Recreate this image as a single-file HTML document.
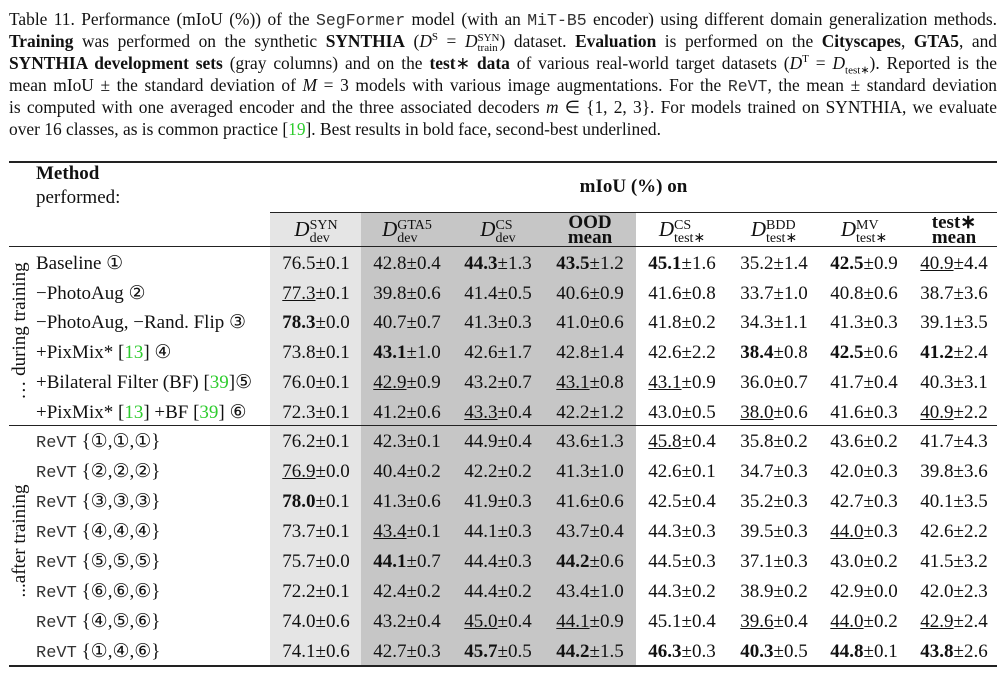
<!DOCTYPE html>
<html><head><meta charset="utf-8">
<style>
body{margin:0;background:#fff;}
#wrap{position:relative;width:1007px;height:677px;overflow:hidden;font-family:"Liberation Serif",serif;color:#111;}
.cap{position:absolute;left:9px;width:988px;height:22px;font-size:17.4px;line-height:22px;white-space:nowrap;text-align:justify;text-align-last:justify;}
.cap sup,.cap sub{line-height:0;font-size:11px;}
.mono{font-family:"Liberation Mono",monospace;font-size:16.5px;color:#333;}
.g{color:#2ecc2e;}
.rule{position:absolute;background:#222;}
.bg{position:absolute;}
.cell{position:absolute;width:92px;text-align:center;font-size:19px;line-height:22px;white-space:nowrap;}
.lab{position:absolute;left:36px;font-size:19px;line-height:22px;white-space:nowrap;}
.hd{position:absolute;text-align:center;white-space:nowrap;}
.dd{font-style:italic;font-size:21px;}
.stk{display:inline-block;vertical-align:middle;line-height:13px;font-size:14px;text-align:left;}
.rot{position:absolute;transform:rotate(-90deg);transform-origin:center;font-size:19px;white-space:nowrap;}
</style></head>
<body>
<div id="wrap">
<div class="cap" style="top:8px">Table 11. Performance (mIoU (%)) of the <span class="mono">SegFormer</span> model (with an <span class="mono">MiT-B5</span> encoder) using different domain generalization methods.</div>
<div class="cap" style="top:30px"><b>Training</b> was performed on the synthetic <b>SYNTHIA</b> (<i>D</i><sup>S</sup> = <i>D</i><span style="display:inline-block;vertical-align:middle;line-height:10px;font-size:11px;">SYN<br>train</span>) dataset. <b>Evaluation</b> is performed on the <b>Cityscapes</b>, <b>GTA5</b>, and</div>
<div class="cap" style="top:52px"><b>SYNTHIA development sets</b> (gray columns) and on the <b>test</b>∗ <b>data</b> of various real-world target datasets (<i>D</i><sup>T</sup> = <i>D</i><sub>test∗</sub>). Reported is the</div>
<div class="cap" style="top:74px">mean mIoU ± the standard deviation of <i>M</i> = 3 models with various image augmentations. For the <span class="mono">ReVT</span>, the mean ± standard deviation</div>
<div class="cap" style="top:96px">is computed with one averaged encoder and the three associated decoders <i>m</i> ∈ {1, 2, 3}. For models trained on SYNTHIA, we evaluate</div>
<div class="cap" style="top:118px;width:auto;text-align-last:auto">over 16 classes, as is common practice [<span class="g">19</span>]. Best results in bold face, second-best underlined.</div>

<div class="bg" style="left:270px;top:212px;width:91px;height:454px;background:#e5e5e5"></div>
<div class="bg" style="left:361px;top:212px;width:275px;height:454px;background:#c6c6c6"></div>

<div class="rule" style="left:9px;top:161px;width:988px;height:2px"></div>
<div class="rule" style="left:270px;top:212px;width:727px;height:1px"></div>
<div class="rule" style="left:9px;top:246px;width:988px;height:1px"></div>
<div class="rule" style="left:9px;top:425px;width:988px;height:1px"></div>
<div class="rule" style="left:9px;top:665px;width:988px;height:2px"></div>

<div class="lab" style="top:163px;font-weight:bold">Method</div>
<div class="lab" style="top:187px">performed:</div>
<div class="hd" style="left:270px;width:727px;top:176px;font-weight:bold;font-size:19px">mIoU (%) on</div>

<div class="rot" style="left:-50px;top:320px;width:140px;text-align:center">… during training</div>
<div class="rot" style="left:-50px;top:530px;width:140px;text-align:center">...after training</div>
</div>
<script>
const colNames=["syn-dev","gta5-dev","cs-dev","ood-mean","cs-test","bdd-test","mv-test","test-mean"];
const colSups=["SYN","GTA5","CS","","CS","BDD","MV",""];
const colSubs=["dev","dev","dev","","test∗","test∗","test∗",""];
const colLefts=[270,361,452,544,636,728,818,908];
const methods1=["Baseline ①","−PhotoAug ②","−PhotoAug, −Rand. Flip ③","+PixMix* [<span class='g'>13</span>] ④","+Bilateral Filter (BF) [<span class='g'>39</span>]⑤","+PixMix* [<span class='g'>13</span>] +BF [<span class='g'>39</span>] ⑥"];
const methods2=["{①,①,①}","{②,②,②}","{③,③,③}","{④,④,④}","{⑤,⑤,⑤}","{⑥,⑥,⑥}","{④,⑤,⑥}","{①,④,⑥}"];
// value strings: *bold*, _underline_
const rows1=[
["76.5±0.1","42.8±0.4","*44.3*±1.3","*43.5*±1.2","*45.1*±1.6","35.2±1.4","*42.5*±0.9","_40.9_±4.4"],
["_77.3_±0.1","39.8±0.6","41.4±0.5","40.6±0.9","41.6±0.8","33.7±1.0","40.8±0.6","38.7±3.6"],
["*78.3*±0.0","40.7±0.7","41.3±0.3","41.0±0.6","41.8±0.2","34.3±1.1","41.3±0.3","39.1±3.5"],
["73.8±0.1","*43.1*±1.0","42.6±1.7","42.8±1.4","42.6±2.2","*38.4*±0.8","*42.5*±0.6","*41.2*±2.4"],
["76.0±0.1","_42.9_±0.9","43.2±0.7","_43.1_±0.8","_43.1_±0.9","36.0±0.7","41.7±0.4","40.3±3.1"],
["72.3±0.1","41.2±0.6","_43.3_±0.4","42.2±1.2","43.0±0.5","_38.0_±0.6","41.6±0.3","_40.9_±2.2"]];
const rows2=[
["76.2±0.1","42.3±0.1","44.9±0.4","43.6±1.3","_45.8_±0.4","35.8±0.2","43.6±0.2","41.7±4.3"],
["_76.9_±0.0","40.4±0.2","42.2±0.2","41.3±1.0","42.6±0.1","34.7±0.3","42.0±0.3","39.8±3.6"],
["*78.0*±0.1","41.3±0.6","41.9±0.3","41.6±0.6","42.5±0.4","35.2±0.3","42.7±0.3","40.1±3.5"],
["73.7±0.1","_43.4_±0.1","44.1±0.3","43.7±0.4","44.3±0.3","39.5±0.3","_44.0_±0.3","42.6±2.2"],
["75.7±0.0","*44.1*±0.7","44.4±0.3","*44.2*±0.6","44.5±0.3","37.1±0.3","43.0±0.2","41.5±3.2"],
["72.2±0.1","42.4±0.2","44.4±0.2","43.4±1.0","44.3±0.2","38.9±0.2","42.9±0.0","42.0±2.3"],
["74.0±0.6","43.2±0.4","_45.0_±0.4","_44.1_±0.9","45.1±0.4","_39.6_±0.4","_44.0_±0.2","_42.9_±2.4"],
["74.1±0.6","42.7±0.3","*45.7*±0.5","*44.2*±1.5","*46.3*±0.3","*40.3*±0.5","*44.8*±0.1","*43.8*±2.6"]];
const W=document.getElementById('wrap');
function fmt(s){return s.replace(/\*([^*]+)\*/g,'<b>$1</b>').replace(/_([^_]+)_/g,'<u>$1</u>');}
colNames.forEach((n,i)=>{
  const h=document.createElement('div');
  h.className='hd';
  h.style.left=colLefts[i]+'px';h.style.width='92px';h.style.top='215px';h.style.height='30px';
  if(colSups[i]){h.innerHTML='<span class="dd">D</span><span class="stk">'+colSups[i]+'<br>'+colSubs[i]+'</span>';h.style.top='217px';}
  else{h.innerHTML='<b style="line-height:15px;display:block;font-size:19px">'+(i==3?'OOD':'test∗')+'<br>mean</b>';}
  
  
  W.appendChild(h);
});
function addRows(labels,rows,y0,dy,mono,prefix){
  rows.forEach((r,ri)=>{
    const y=y0+ri*dy-11;
    const l=document.createElement('div');
    l.className='lab';l.style.top=y+'px';
    l.innerHTML=mono?'<span class="mono" style="font-size:17px">ReVT</span> '+labels[ri]:labels[ri];
    
    
    W.appendChild(l);
    r.forEach((v,ci)=>{
      const c=document.createElement('div');
      c.className='cell';c.style.left=colLefts[ci]+'px';c.style.top=y+'px';
      c.innerHTML=fmt(v);
      
      
      W.appendChild(c);
    });
  });
}
addRows(methods1,rows1,264,29.7,false,'during');
addRows(methods2,rows2,442,30,true,'after');
</script>
</body></html>
